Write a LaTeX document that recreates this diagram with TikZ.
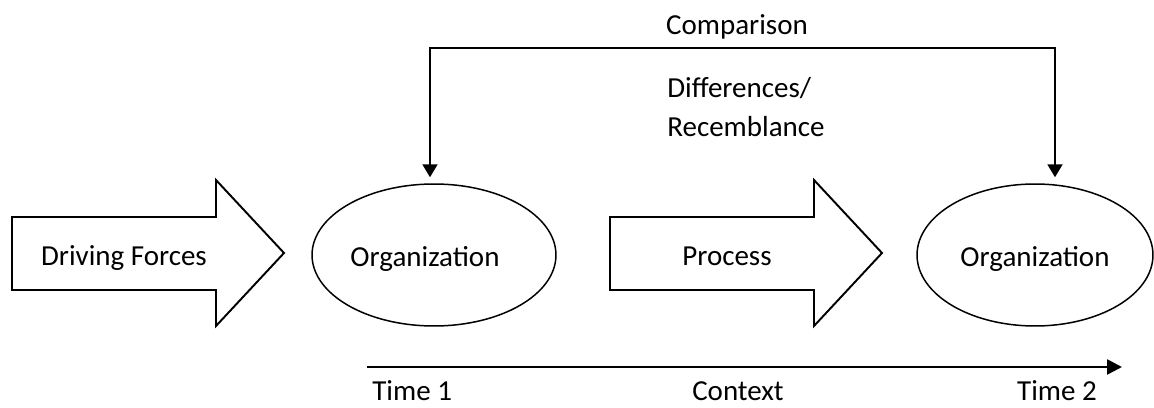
\documentclass[tikz,border=0pt]{standalone}
\usepackage{fontspec}
\setmainfont{Carlito}
\usetikzlibrary{positioning,arrows.meta,shapes.geometric}

\begin{document}
\begin{tikzpicture}[x=0.02cm, y=-0.02cm,
        every node/.style={font=\fontsize{16.5}{20}\selectfont},
        blockarr/.style={draw, line width=1.1pt, line join=miter},
        org/.style={draw, ellipse, line width=0.85pt, minimum height=2.84cm, inner sep=0pt,
                    text height=0.48cm, text depth=0pt},
        lbl/.style={inner sep=0pt},
        link/.style={{Triangle[length=0.26cm,width=0.3cm]}-{Triangle[length=0.26cm,width=0.3cm]},
                     line width=1.1pt, shorten <=0.12cm, shorten >=0.12cm},
        tline/.style={-{Triangle[length=0.3cm,width=0.3cm]}, line width=1.5pt}
    ]
    \useasboundingbox (0,0) rectangle (1154,408);
    % block arrows
    \draw[blockarr] (12,217) -- (216,217) -- (216,180) -- (284,253) -- (216,326) -- (216,290) -- (12,290) -- cycle;
    \draw[blockarr] (610,217) -- (814,217) -- (814,180) -- (882,253) -- (814,326) -- (814,290) -- (610,290) -- cycle;
    \node[lbl, anchor=base] (drive) at (124,266) {Driving Forces};
    \node[lbl, anchor=base] (proc) at (727,266) {Process};
    % organizations
    \node[org, minimum width=4.88cm] (org1) at (434,255) {\hspace*{-0.36cm}Organization};
    \node[org, minimum width=4.72cm] (org2) at (1035,255) {Organization};
    % comparison
    \coordinate (barL) at (430,48);
    \coordinate (barR) at (1055,48);
    \draw[link] (org1.north -| barL) -- (barL) -- (barR) -- (org2.north -| barR);
    \node[lbl, anchor=base] (cmp) at (737,35) {Comparison};
    \node[lbl, anchor=base west] (diff) at (667,98) {Differences/};
    \node[lbl, anchor=base west] (rese) at (667,137) {Recemblance};
    % time line
    \coordinate (t0) at (367,367);
    \coordinate (t1) at (1122,367);
    \draw[tline] (t0) -- (t1);
    \node[lbl, anchor=base west] (time1) at (372,401) {Time 1};
    \node[lbl, anchor=base] (ctx) at (738,401) {Context};
    \node[lbl, anchor=base] (time2) at (1057,401) {Time 2};
\end{tikzpicture}
\end{document}
